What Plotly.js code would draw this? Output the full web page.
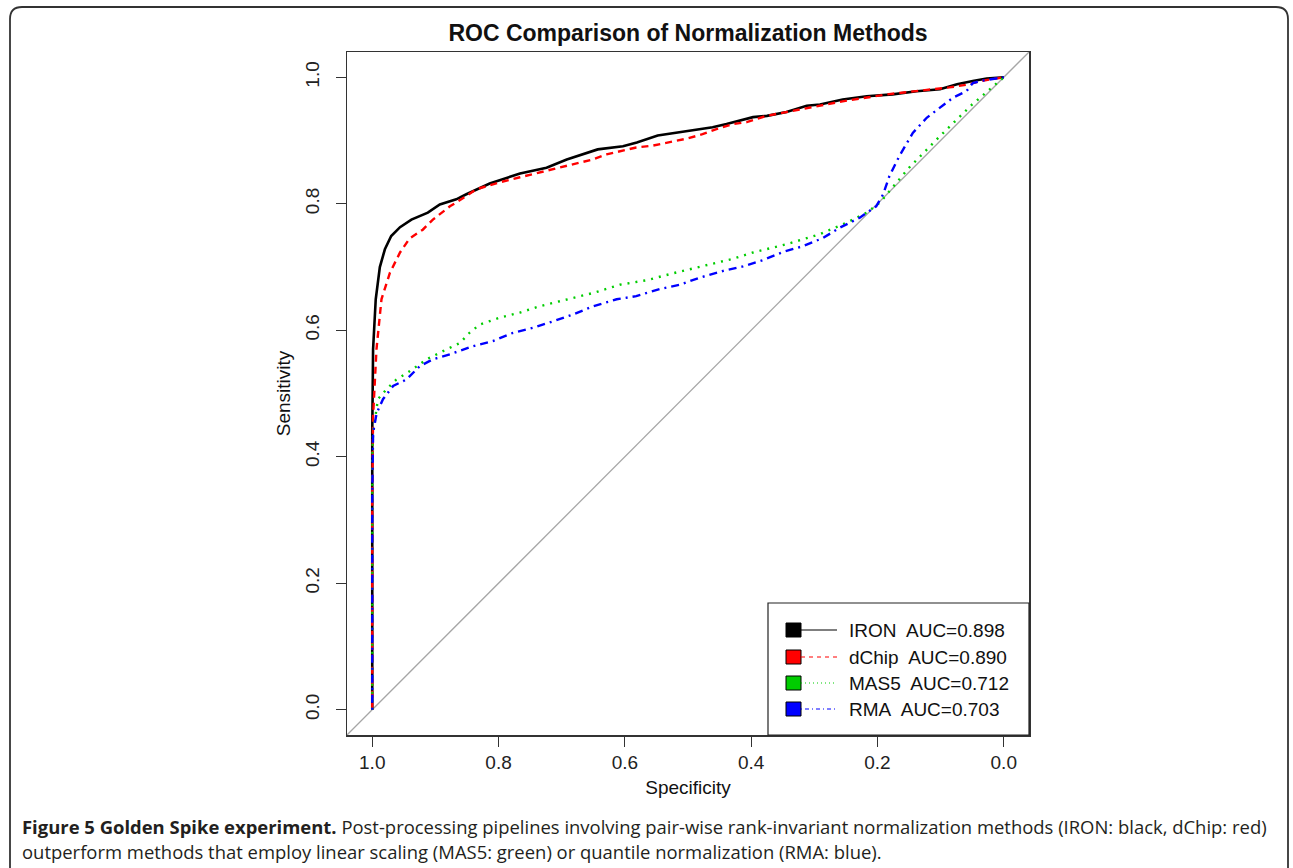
<!DOCTYPE html>
<html>
<head>
<meta charset="utf-8">
<script src="https://cdn.plot.ly/plotly-3.0.1.min.js"></script>
<style>
  html, body { margin: 0; padding: 0; background: #ffffff; }
  #chart { width: 1293px; height: 868px; }
</style>
</head>
<body>
<div id="chart"></div>
<script>
// ---------------- DATA ----------------
const seriesNames = ["IRON", "dChip", "MAS5", "RMA"];
const aucValues = [0.898, 0.890, 0.712, 0.703];

const ironSpec = [1.0, 1.0, 0.9987, 0.9945, 0.988, 0.980, 0.970, 0.956, 0.938, 0.912, 0.893, 0.867, 0.851, 0.814, 0.766, 0.724, 0.692, 0.643, 0.603, 0.581, 0.548, 0.513, 0.493, 0.461, 0.439, 0.418, 0.397, 0.375, 0.344, 0.312, 0.291, 0.255, 0.217, 0.176, 0.138, 0.101, 0.074, 0.049, 0.027, 0.0];
const ironSens = [0.0, 0.44, 0.57, 0.649, 0.70, 0.728, 0.749, 0.763, 0.775, 0.786, 0.799, 0.807, 0.815, 0.832, 0.848, 0.857, 0.870, 0.886, 0.891, 0.897, 0.908, 0.913, 0.917, 0.921, 0.926, 0.931, 0.937, 0.939, 0.945, 0.955, 0.957, 0.965, 0.970, 0.973, 0.978, 0.981, 0.989, 0.994, 0.998, 1.0];

const dchipSpec = [1.0, 1.0, 0.9987, 0.9933, 0.9854, 0.972, 0.956, 0.941, 0.920, 0.904, 0.877, 0.867, 0.835, 0.798, 0.766, 0.724, 0.682, 0.651, 0.629, 0.582, 0.556, 0.529, 0.502, 0.477, 0.455, 0.429, 0.407, 0.376, 0.334, 0.302, 0.255, 0.185, 0.113, 0.086, 0.054, 0.038, 0.0];
const dchipSens = [0.0, 0.34, 0.464, 0.57, 0.649, 0.691, 0.723, 0.745, 0.759, 0.775, 0.796, 0.802, 0.823, 0.834, 0.842, 0.852, 0.862, 0.870, 0.878, 0.889, 0.892, 0.898, 0.903, 0.910, 0.918, 0.926, 0.929, 0.939, 0.947, 0.952, 0.962, 0.973, 0.981, 0.984, 0.989, 0.994, 1.0];

const mas5Spec = [1.0, 1.0, 0.9987, 0.991, 0.978, 0.962, 0.941, 0.914, 0.888, 0.861, 0.846, 0.830, 0.798, 0.766, 0.735, 0.692, 0.650, 0.608, 0.566, 0.524, 0.481, 0.429, 0.397, 0.344, 0.291, 0.249, 0.217, 0.196, 0.15, 0.10, 0.05, 0.02, 0.0];
const mas5Sens = [0.0, 0.40, 0.438, 0.491, 0.506, 0.522, 0.535, 0.554, 0.567, 0.580, 0.596, 0.609, 0.620, 0.628, 0.638, 0.649, 0.659, 0.672, 0.679, 0.690, 0.700, 0.713, 0.723, 0.736, 0.752, 0.770, 0.786, 0.802, 0.857, 0.908, 0.957, 0.983, 1.0];

const rmaSpec = [1.0, 1.0, 0.9987, 0.993, 0.983, 0.967, 0.946, 0.925, 0.904, 0.877, 0.840, 0.809, 0.777, 0.745, 0.714, 0.682, 0.650, 0.613, 0.582, 0.545, 0.513, 0.482, 0.444, 0.413, 0.381, 0.349, 0.318, 0.286, 0.260, 0.228, 0.202, 0.191, 0.181, 0.165, 0.144, 0.122, 0.101, 0.080, 0.059, 0.049, 0.033, 0.0];
const rmaSens = [0.0, 0.343, 0.438, 0.469, 0.491, 0.512, 0.522, 0.543, 0.554, 0.562, 0.575, 0.583, 0.596, 0.604, 0.614, 0.625, 0.638, 0.649, 0.654, 0.665, 0.672, 0.683, 0.694, 0.701, 0.711, 0.724, 0.733, 0.746, 0.762, 0.778, 0.796, 0.815, 0.844, 0.876, 0.912, 0.936, 0.952, 0.968, 0.978, 0.991, 0.995, 1.0];

const tickValues = [0, 0.2, 0.4, 0.6, 0.8, 1.0];
const tickLabels = ["0.0", "0.2", "0.4", "0.6", "0.8", "1.0"];
const axisRange = [1.04, -0.04];

const titleText = "ROC Comparison of Normalization Methods";
const xTitle = "Specificity";
const yTitle = "Sensitivity";
const captionBold = "Figure 5 Golden Spike experiment.";
const captionLine1 = " Post-processing pipelines involving pair-wise rank-invariant normalization methods (IRON: black, dChip: red)";
const captionLine2 = "outperform methods that employ linear scaling (MAS5: green) or quantile normalization (RMA: blue).";

// ---------------- STYLE ----------------
const FONT = "Liberation Sans, Arial, Helvetica, sans-serif";
const CAPFONT = "Open Sans, Noto Sans, sans-serif";
const colors = ["#000000", "#ff0000", "#00cd00", "#0000ff"];
const dashes = ["solid", "7px,5px", "2px,6px", "2px,5px,8px,5px"];
const legendDashes = ["solid", "4px,4px", "1px,3px", "1px,3px,4px,3px"];

// plot area in pixels
const L = 347, R = 1029, T = 52, B = 735, W = 1293, H = 868;
const px = p => (p - L) / (R - L);
const py = p => (B - p) / (B - T);

const specs = [ironSpec, dchipSpec, mas5Spec, rmaSpec];
const sens = [ironSens, dchipSens, mas5Sens, rmaSens];

const traces = [];
// chance diagonal (sensitivity = 1 - specificity) across the full axis range
traces.push({
  x: axisRange, y: axisRange.map(v => 1 - v),
  mode: "lines", line: { color: "#a6a6a6", width: 1.3 },
  showlegend: false, hoverinfo: "skip", cliponaxis: true
});
for (let i = 0; i < 4; i++) {
  traces.push({
    x: specs[i], y: sens[i], name: seriesNames[i],
    mode: "lines",
    line: { color: colors[i], width: i === 0 ? 2.6 : 2.4, dash: dashes[i] },
    showlegend: false
  });
}

const shapes = [];
const annotations = [];

// legend box
shapes.push({ type: "rect", xref: "paper", yref: "paper",
  x0: px(768), x1: px(1029), y0: py(735), y1: py(603),
  line: { color: "#222", width: 1.2 }, fillcolor: "#ffffff", layer: "above" });
const legY = [630, 657, 683, 709];
for (let i = 0; i < 4; i++) {
  const yc = legY[i];
  shapes.push({ type: "rect", xref: "paper", yref: "paper",
    x0: px(786), x1: px(801), y0: py(yc + 7), y1: py(yc - 7),
    fillcolor: colors[i], line: { color: "#000", width: 1 }, layer: "above" });
  shapes.push({ type: "line", xref: "paper", yref: "paper",
    x0: px(801), x1: px(837), y0: py(yc), y1: py(yc),
    line: { color: colors[i], width: 1.1, dash: legendDashes[i] }, layer: "above" });
  annotations.push({ xref: "paper", yref: "paper", x: px(847), y: py(yc),
    xanchor: "left", yanchor: "middle", showarrow: false,
    text: seriesNames[i] + "\u00a0 AUC=" + aucValues[i].toFixed(3),
    font: { family: FONT, size: 19, color: "#111" } });
}

// outer rounded frame
const fx0 = px(10), fx1 = px(1288), fyT = py(7), fyB = py(880);
const rx = 12 / (R - L), ry = 12 / (B - T);
shapes.push({ type: "path", xref: "paper", yref: "paper",
  path: `M ${fx0} ${fyB} L ${fx0} ${fyT - ry} Q ${fx0} ${fyT} ${fx0 + rx} ${fyT} L ${fx1 - rx} ${fyT} Q ${fx1} ${fyT} ${fx1} ${fyT - ry} L ${fx1} ${fyB}`,
  line: { color: "#333", width: 1.8 } });

// caption
annotations.push({ xref: "paper", yref: "paper", x: px(20), y: py(826),
  xanchor: "left", yanchor: "middle", showarrow: false, align: "left",
  text: "<b>" + captionBold + "</b>" + captionLine1,
  font: { family: CAPFONT, size: 18.45, color: "#231f20" } });
annotations.push({ xref: "paper", yref: "paper", x: px(20), y: py(851),
  xanchor: "left", yanchor: "middle", showarrow: false, align: "left",
  text: captionLine2,
  font: { family: CAPFONT, size: 18.45, color: "#231f20" } });

const axisCommon = {
  range: axisRange, tickvals: tickValues, ticktext: tickLabels,
  ticks: "outside", ticklen: 10, tickwidth: 1.3, tickcolor: "#333",
  showline: true, mirror: true, linecolor: "#333", linewidth: 1.5,
  showgrid: false, zeroline: false, automargin: false,
  tickfont: { family: FONT, size: 19, color: "#222" }
};

const layout = {
  width: W, height: H,
  margin: { l: L, r: W - R, t: T, b: H - B, pad: 0 },
  paper_bgcolor: "#ffffff", plot_bgcolor: "#ffffff",
  showlegend: false,
  title: { text: titleText, font: { family: FONT, size: 23, color: "#111", weight: "bold" },
    xref: "container", x: 688 / W, xanchor: "center",
    yref: "container", y: 1 - 33 / H, yanchor: "middle" },
  xaxis: Object.assign({}, axisCommon, {
    range: axisRange,
    title: { text: xTitle, font: { family: FONT, size: 19, color: "#111" }, standoff: 8 }
  }),
  yaxis: Object.assign({}, axisCommon, {
    range: axisRange.slice().reverse(),
    tickangle: -90,
    ticklabelstandoff: 9,
    title: { text: yTitle, font: { family: FONT, size: 19, color: "#111" }, standoff: 6 }
  }),
  shapes: shapes,
  annotations: annotations
};

Plotly.newPlot("chart", traces, layout, { displayModeBar: false, staticPlot: true });
</script>
</body>
</html>
